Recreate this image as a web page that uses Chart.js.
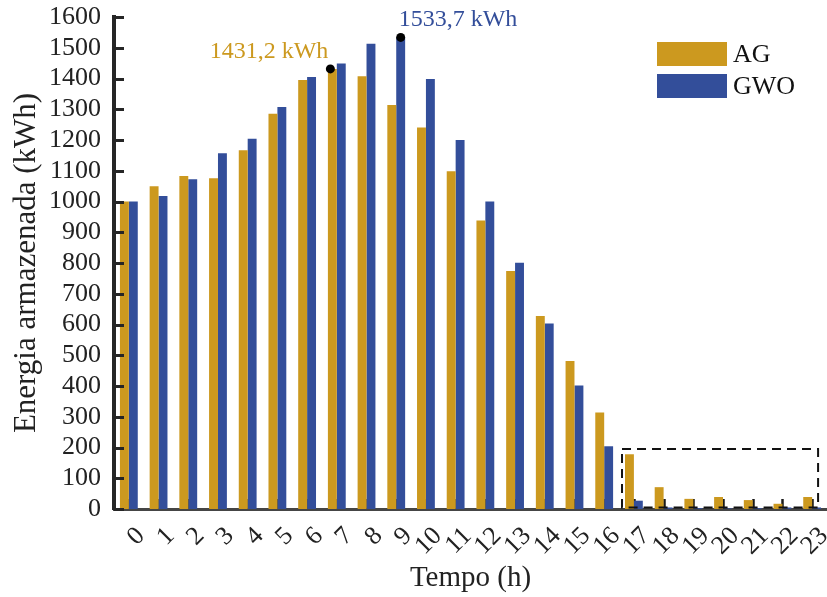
<!DOCTYPE html>
<html>
<head>
<meta charset="utf-8">
<title>Energia armazenada</title>
<script src="https://cdn.jsdelivr.net/npm/chart.js@4.4.1/dist/chart.umd.min.js"></script>
<style>
  html, body { margin: 0; padding: 0; background: #ffffff; }
  canvas { display: block; }
</style>
</head>
<body>
<canvas id="chart" width="827" height="597"></canvas>
<script>
// Hours of the day (x categories)
const hours = ['0','1','2','3','4','5','6','7','8','9','10','11','12','13','14','15','16','17','18','19','20','21','22','23'];

// Stored energy per hour, kWh
const agEnergy  = [1000, 1050, 1083, 1076, 1167, 1285, 1395, 1431.2, 1407, 1314, 1241, 1098, 938, 774, 628, 481, 314, 178, 71, 33, 39, 29, 17, 39];
const gwoEnergy = [1000, 1018, 1072, 1157, 1204, 1307, 1405, 1449, 1513, 1533.7, 1398, 1200, 1000, 801, 603, 402, 204, 27, 5, 3, 2, 3, 5, 5];

const seriesNames  = ['AG', 'GWO'];
const seriesColors = ['#CC991F', '#334E9A'];

// Y axis range and step
const yMin = 0, yMax = 1600, yStep = 100;

// Highlighted low-storage window (hours 17..23), in axis units
const lowWindow = { fromHour: 16.6, toHour: 23.2, low: 5, high: 195 };

const SERIF = '"Liberation Serif", "Times New Roman", Times, serif';
const INK = '#222222';

function fmtKwh(v) {
  return v.toFixed(1).replace('.', ',') + ' kWh';
}

const decorations = {
  id: 'decorations',
  beforeDatasetsDraw(chart) {
    const { ctx, chartArea, scales } = chart;
    const x = scales.x;
    // inward tick marks on the time axis
    ctx.save();
    ctx.strokeStyle = '#1a1a1a';
    ctx.lineWidth = 2.5;
    x.ticks.forEach((t, i) => {
      const px = Math.round(x.getPixelForTick(i)) + 0.5;
      ctx.beginPath();
      ctx.moveTo(px, chartArea.bottom);
      ctx.lineTo(px, chartArea.bottom - 10);
      ctx.stroke();
    });
    ctx.restore();
  },
  afterDatasetsDraw(chart) {
    const { ctx, chartArea, scales } = chart;
    const x = scales.x, y = scales.y;

    // inward tick marks on the energy axis
    ctx.save();
    ctx.strokeStyle = '#262626';
    ctx.lineWidth = 3;
    y.ticks.forEach(t => {
      const py = Math.round(y.getPixelForValue(t.value)) + 0.5;
      ctx.beginPath();
      ctx.moveTo(chartArea.left, py);
      ctx.lineTo(chartArea.left + 10, py);
      ctx.stroke();
    });
    ctx.restore();

    // dashed frame around the evening hours
    const bx0 = x.getPixelForValue(lowWindow.fromHour);
    const bx1 = x.getPixelForValue(lowWindow.toHour);
    const by0 = y.getPixelForValue(lowWindow.high);
    const by1 = y.getPixelForValue(lowWindow.low);
    ctx.save();
    ctx.strokeStyle = '#111111';
    ctx.lineWidth = 2;
    ctx.setLineDash([9, 6]);
    ctx.strokeRect(bx0, by0, bx1 - bx0, by1 - by0);
    ctx.restore();

    // peak markers with value labels
    chart.data.datasets.forEach((ds, di) => {
      const vals = ds.data;
      let best = 0;
      vals.forEach((v, i) => { if (v > vals[best]) best = i; });
      const bar = chart.getDatasetMeta(di).data[best];
      const px = bar.x, py = bar.y;
      ctx.save();
      ctx.fillStyle = '#000000';
      ctx.beginPath();
      ctx.arc(px - (di === 0 ? 2 : 0), py, 4.5, 0, Math.PI * 2);
      ctx.fill();
      ctx.font = '24px ' + SERIF;
      ctx.fillStyle = ds.backgroundColor;
      ctx.textBaseline = 'alphabetic';
      if (di === 0) {
        ctx.textAlign = 'right';
        ctx.fillText(fmtKwh(vals[best]), px - 4, py - 11);
      } else {
        ctx.textAlign = 'left';
        ctx.fillText(fmtKwh(vals[best]), px - 2, py - 11);
      }
      ctx.restore();
    });

    // legend box in the top-right corner
    ctx.save();
    ctx.font = '26px ' + SERIF;
    ctx.textBaseline = 'middle';
    ctx.textAlign = 'left';
    chart.data.datasets.forEach((ds, di) => {
      const top = 42 + di * 32;
      ctx.fillStyle = ds.backgroundColor;
      ctx.fillRect(657, top, 70, 24);
      ctx.fillStyle = '#111111';
      ctx.fillText(ds.label, 733, top + 13);
    });
    ctx.restore();
  }
};

new Chart(document.getElementById('chart'), {
  type: 'bar',
  data: {
    labels: hours,
    datasets: [
      { label: seriesNames[0], data: agEnergy,  backgroundColor: seriesColors[0], borderWidth: 0 },
      { label: seriesNames[1], data: gwoEnergy, backgroundColor: seriesColors[1], borderWidth: 0 }
    ]
  },
  options: {
    responsive: false,
    devicePixelRatio: 1,
    animation: false,
    events: [],
    layout: { padding: { top: 17, right: 0, bottom: 0, left: 0 } },
    datasets: { bar: { categoryPercentage: 0.6, barPercentage: 1.0 } },
    plugins: {
      legend: { display: false },
      tooltip: { enabled: false }
    },
    scales: {
      x: {
        offset: true,
        grid: { display: false, drawTicks: false },
        border: { display: true, color: '#454545', width: 3 },
        ticks: {
          autoSkip: false,
          maxRotation: 45,
          minRotation: 45,
          padding: 12,
          labelOffset: 12,
          color: INK,
          font: { family: SERIF, size: 26 }
        },
        title: {
          display: true,
          text: 'Tempo (h)',
          color: INK,
          font: { family: SERIF, size: 29 },
          padding: { top: 0, bottom: 1 }
        },
        afterFit(scale) {
          scale.height = 88;
          scale.paddingLeft = 0;
          scale.paddingRight = 0;
        }
      },
      y: {
        min: yMin,
        max: yMax,
        grid: { display: false, drawTicks: false },
        border: { display: true, color: '#262626', width: 4 },
        ticks: {
          stepSize: yStep,
          autoSkip: false,
          padding: 13,
          color: INK,
          font: { family: SERIF, size: 26 },
          callback: v => String(v)
        },
        title: {
          display: true,
          text: 'Energia armazenada (kWh)',
          color: INK,
          font: { family: SERIF, size: 31 },
          padding: { top: 8, bottom: 0 }
        },
        afterFit(scale) {
          scale.width = 114;
          scale.paddingTop = 0;
          scale.paddingBottom = 0;
        }
      }
    }
  },
  plugins: [decorations]
});
</script>
</body>
</html>
